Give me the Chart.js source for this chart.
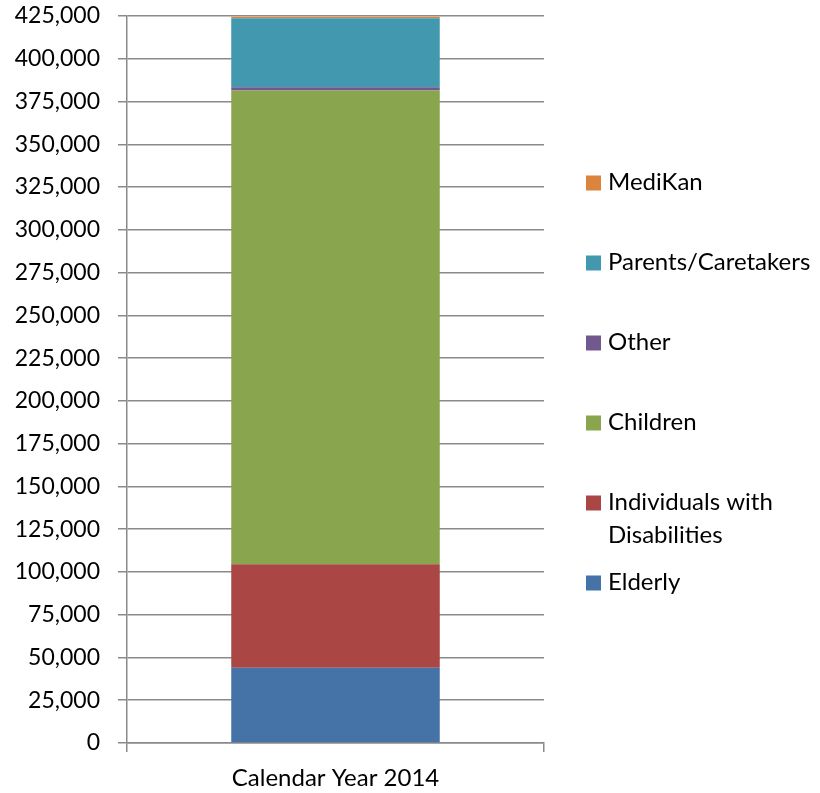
<!DOCTYPE html>
<html>
<head>
<meta charset="utf-8">
<style>
    html, body { margin: 0; padding: 0; background: #fff; }
    #wrap { width: 820px; height: 793px; }
</style>
<script src="https://cdn.jsdelivr.net/npm/chart.js@4"></script>
</head>
<body>
<div id="wrap"><canvas id="grafica" width="820" height="793"></canvas></div>
<script>
// data
const categorias = ['Calendar Year 2014'];
const series = ['Elderly', 'Individuals with Disabilities', 'Children', 'Other', 'Parents/Caretakers', 'MediKan'];
const elderly = [44000];
const disabilities = [60500];
const children = [277000];
const other = [1800];
const parents = [40400];
const medikan = [800];
const colores = ['#4572A7', '#AA4643', '#89A54E', '#71588F', '#4198AF', '#DB843D'];
const valores = [elderly, disabilities, children, other, parents, medikan];

const fuente = 'Lato, "Open Sans", sans-serif';
const gris = '#8a8a8a';

// legend drawn by hand: fixed 80px step, long names wrap onto a second line
const leyenda = {
    id: 'leyenda',
    afterDraw(chart) {
        const ctx = chart.ctx;
        const area = chart.chartArea;
        const x = area.right + 42;
        const paso = 80;
        const items = chart.data.datasets.slice().reverse();
        const centro = (area.top + area.bottom) / 2 + 3;
        let y = centro - paso * (items.length - 1) / 2;

        ctx.save();
        ctx.font = '24px ' + fuente;
        ctx.textBaseline = 'middle';
        items.forEach(ds => {
            ctx.fillStyle = ds.backgroundColor;
            ctx.fillRect(x, y - 7, 15, 15);
            ctx.fillStyle = '#000';
            const lineas = ds.label === 'Individuals with Disabilities'
                ? ['Individuals with', 'Disabilities'] : [ds.label];
            lineas.forEach((l, i) => ctx.fillText(l, x + 22, y + i * 33));
            y += paso;
        });
        ctx.restore();
    }
};

new Chart(document.querySelector('#grafica'), {
    type: 'bar',
    data: {
        labels: categorias,
        datasets: series.map((nombre, i) => ({
            label: nombre,
            data: valores[i],
            backgroundColor: colores[i],
            borderWidth: 0,
            barPercentage: 0.5,
            categoryPercentage: 1
        }))
    },
    options: {
        responsive: false,
        animation: false,
        layout: {
            padding: { left: 0, right: 276, top: 0, bottom: 0 }
        },
        scales: {
            x: {
                stacked: true,
                afterFit: s => { s.height = 50; },
                grid: {
                    drawOnChartArea: false,
                    color: gris,
                    lineWidth: 1.5,
                    tickLength: 9
                },
                border: { color: gris, width: 1.5 },
                ticks: {
                    color: '#000',
                    font: { family: fuente, size: 24 },
                    padding: 12
                }
            },
            y: {
                stacked: true,
                min: 0,
                max: 425000,
                afterFit: s => {
                    s.width = 127;
                    s.paddingTop = 16;
                    s.paddingBottom = 0;
                },
                grid: {
                    color: gris,
                    lineWidth: 1.5,
                    tickLength: 9
                },
                border: { color: gris, width: 1.5 },
                ticks: {
                    stepSize: 25000,
                    color: '#000',
                    padding: 18,
                    font: { family: fuente, size: 23 },
                    callback: v => v.toLocaleString('en-US')
                }
            }
        },
        plugins: {
            legend: { display: false },
            tooltip: { enabled: false }
        }
    },
    plugins: [leyenda]
});
</script>
</body>
</html>
